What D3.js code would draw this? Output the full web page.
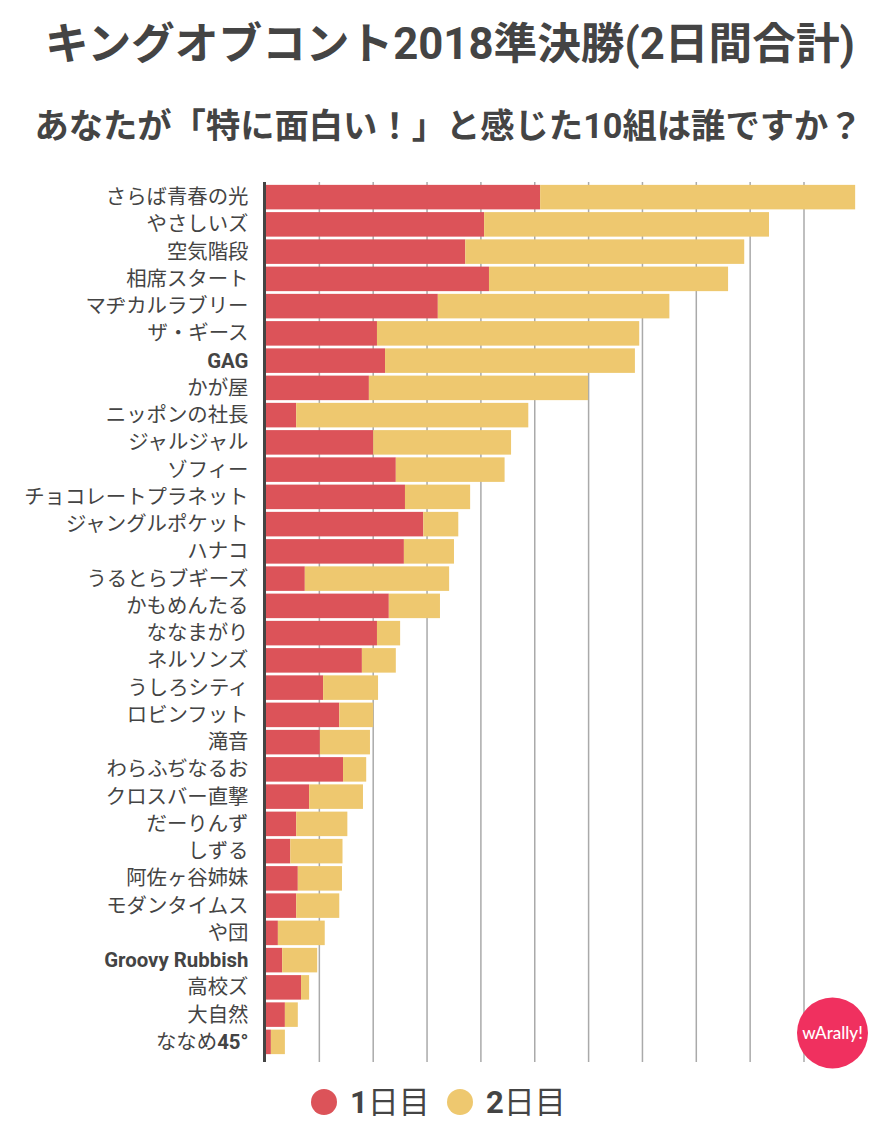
<!DOCTYPE html>
<html>
<head>
<meta charset="utf-8">
<script src="https://cdnjs.cloudflare.com/ajax/libs/d3/7.8.5/d3.min.js"></script>
<style>
  html, body { margin: 0; padding: 0; background: #fff; }
  svg { display: block; font-family: Roboto, "Noto Sans CJK JP", sans-serif; }
</style>
</head>
<body>
<svg id="chart" width="888" height="1122" lang="ja"></svg>
<script>
const titleText = "キングオブコント2018準決勝(2日間合計)";
const subtitleText = "あなたが「特に面白い！」と感じた10組は誰ですか？";
const brandText = "wArally!";

const categories = [
  "さらば青春の光", "やさしいズ", "空気階段", "相席スタート", "マヂカルラブリー",
  "ザ・ギース", "GAG", "かが屋", "ニッポンの社長", "ジャルジャル", "ゾフィー",
  "チョコレートプラネット", "ジャングルポケット", "ハナコ", "うるとらブギーズ",
  "かもめんたる", "ななまがり", "ネルソンズ", "うしろシティ", "ロビンフット", "滝音",
  "わらふぢなるお", "クロスバー直撃", "だーりんず", "しずる", "阿佐ヶ谷姉妹",
  "モダンタイムス", "や団", "Groovy Rubbish", "高校ズ", "大自然", "ななめ45°"
];
const day1 = [
  51.0, 40.6, 37.1, 41.5, 32.0, 20.7, 22.2, 19.2, 5.7, 20.0, 24.2,
  25.9, 29.3, 25.7, 7.3, 22.9, 20.7, 17.9, 10.7, 13.7, 10.1,
  14.4, 8.1, 5.7, 4.6, 6.0, 5.7, 2.3, 3.1, 6.6, 3.6, 1.0
];
const day2 = [
  58.5, 52.9, 51.8, 44.4, 43.0, 48.7, 46.4, 40.7, 43.1, 25.6, 20.2,
  12.1, 6.5, 9.3, 26.8, 9.5, 4.3, 6.3, 10.2, 6.3, 9.3,
  4.3, 10.0, 9.5, 9.7, 8.2, 8.0, 8.7, 6.5, 1.5, 2.4, 2.6
];
const seriesNames = ["1日目", "2日目"];
const gridTicks = [10, 20, 30, 40, 50, 60, 70, 80, 90, 100];

const ink = "#444";
const seriesColors = ["#dc5359", "#eec86f"];

const svg = d3.select("#chart");

// bold latin and digits, regular kana/kanji, same as the labels in the picture
function addMixedText(sel, str) {
  str.split(/([A-Za-z0-9° ]+)/).filter((s) => s).forEach((part) => {
    sel.append("tspan")
      .attr("font-weight", /^[A-Za-z0-9° ]+$/.test(part) ? 700 : 400)
      .text(part);
  });
}

svg.append("text")
  .attr("x", 450).attr("y", 59)
  .attr("text-anchor", "middle")
  .attr("font-size", 43.7).attr("font-weight", 700).attr("fill", ink)
  .text(titleText);

svg.append("text")
  .attr("x", 448.5).attr("y", 138)
  .attr("text-anchor", "middle")
  .attr("font-size", 34.3).attr("font-weight", 700).attr("fill", ink)
  .text(subtitleText);

// Scales
const xScale = d3.scaleLinear().domain([0, 100]).range([265.5, 804]);
const yScale = d3.scaleBand()
  .domain(categories)
  .range([183.5, 1055.5])
  .paddingInner(0.1)
  .paddingOuter(0.05);

// Gridlines sit behind the bars
const grid = svg.append("g")
  .attr("transform", "translate(0,1062)")
  .call(d3.axisBottom(xScale).tickValues(gridTicks).tickSize(-880).tickFormat("").offset(0));
grid.select(".domain").remove();
grid.selectAll("line").attr("stroke", "#aaa").attr("stroke-width", 1.5);

// Stacked bars
const rows = categories.map((name, i) => ({ name, d1: day1[i], d2: day2[i] }));
const stacked = d3.stack().keys(["d1", "d2"])(rows);

svg.append("g")
  .selectAll("g")
  .data(stacked)
  .join("g")
  .attr("fill", (d, i) => seriesColors[i])
  .selectAll("rect")
  .data((d) => d)
  .join("rect")
  .attr("x", (d) => xScale(d[0]))
  .attr("y", (d) => yScale(d.data.name))
  .attr("width", (d) => xScale(d[1]) - xScale(d[0]))
  .attr("height", yScale.bandwidth());

// Category axis
const yAxis = svg.append("g")
  .attr("transform", "translate(264.5,0.5)")
  .call(d3.axisLeft(yScale).tickSize(0).tickPadding(16));
yAxis.select(".domain").remove();
yAxis.selectAll("text").each(function (d) {
  const t = d3.select(this);
  t.text(null).attr("font-size", 20.4).attr("fill", ink)
    .attr("font-family", 'Roboto, "Noto Sans CJK JP", sans-serif');
  addMixedText(t, d);
});

svg.append("line")
  .attr("x1", 264.5).attr("x2", 264.5)
  .attr("y1", 182).attr("y2", 1062)
  .attr("stroke", ink).attr("stroke-width", 3);

// Legend
const legend = svg.append("g").selectAll("g")
  .data(seriesNames)
  .join("g")
  .attr("transform", (d, i) => `translate(${i === 0 ? 324 : 460},1102)`);
legend.append("circle")
  .attr("r", 13)
  .attr("fill", (d, i) => seriesColors[i]);
legend.append("text")
  .attr("x", 26).attr("y", 11)
  .attr("font-size", 31).attr("fill", ink)
  .each(function (d) { addMixedText(d3.select(this), d); });

// Brand badge
svg.append("circle")
  .attr("cx", 832.5).attr("cy", 1033).attr("r", 35.5)
  .attr("fill", "#f0305f");
svg.append("text")
  .attr("x", 832.5).attr("y", 1039)
  .attr("text-anchor", "middle")
  .attr("font-family", "Lato, sans-serif")
  .attr("font-size", 17).attr("font-weight", 500).attr("fill", "#fff")
  .text(brandText);
</script>
</body>
</html>
